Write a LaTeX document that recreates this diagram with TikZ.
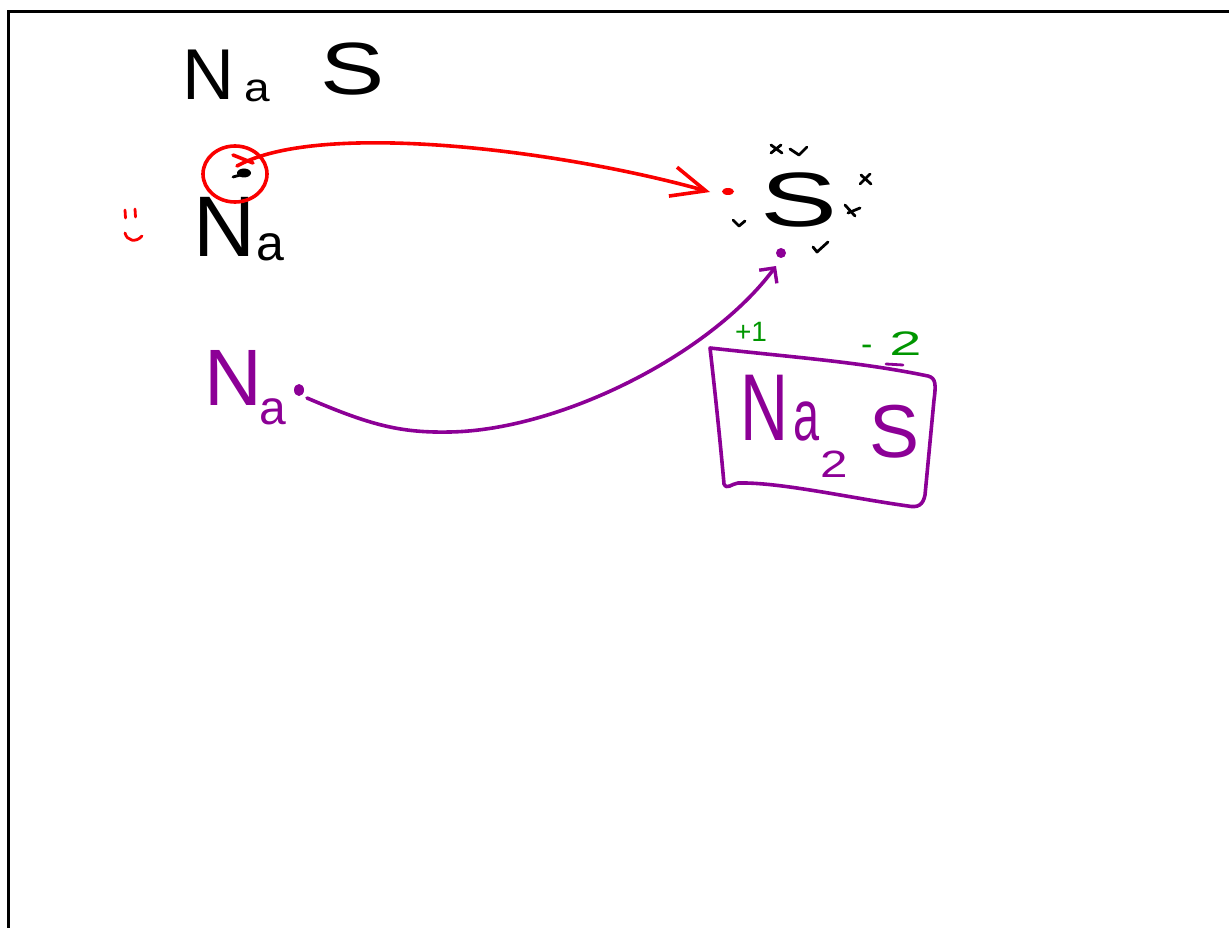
\documentclass[tikz,border=0pt]{standalone}
\usepackage{fontspec}
\setmainfont{Liberation Sans}
\usetikzlibrary{arrows.meta}
\definecolor{redink}{RGB}{250,0,0}
\definecolor{purpleink}{RGB}{140,0,150}
\definecolor{greenink}{RGB}{0,150,0}
\newcommand{\fsz}[1]{\fontsize{#1}{#1}\selectfont}
\begin{document}
\begin{tikzpicture}[x=1pt,y=-1pt,
  ink/.style={line width=3.6pt,line cap=round,line join=round},
  tick/.style={line width=2.8pt,line cap=round,line join=round},
  lbl/.style={inner sep=0pt,outer sep=0pt,anchor=base west}]
\useasboundingbox (0,0) rectangle (1229,928);
% frame
\draw[line width=3pt] (8,928) -- (8,11.5) -- (1229,11.5);

% top formula
\node[lbl] (na1) at (182,100) {\fsz{72}N\hspace{11pt}\raisebox{-2pt}{\scalebox{1.15}[1]{\fsz{40}a}}};
\node[inner sep=0pt,xscale=1.3] (s1) at (353,69) {\fsz{74}S};

% second Na with electron
\node[lbl] (na2) at (193.5,257) {\fsz{86}N\hspace{1pt}\raisebox{-3pt}{\fsz{50}a}};
\draw[redink,ink] (235,174) ellipse [x radius=32, y radius=28];
\fill (244,173) ellipse [x radius=7, y radius=4.5];
\draw[tick] (244,174) -- (233,177);
\coordinate (redStart) at (237,166);
\draw[redink,ink] (233,155) -- (253,163);

% smiley
\draw[redink,tick] (125,210) -- (125.5,218);
\draw[redink,tick] (135,209) -- (135.5,217);
\draw[redink,tick] (125,233) .. controls (127,241) and (136,243) .. (142,236);

% S with its electrons
\node[inner sep=0pt,xscale=1.5] (s2) at (799,200) {\fsz{77}S};
\draw[tick] (771,145) -- (782,153);
\draw[tick] (771,153) -- (781,145);
\draw[tick] (790,149) -- (799,155) -- (807,147);
\draw[tick] (861,175) -- (871,184);
\draw[tick] (860,184) -- (870,174);
\draw[tick] (845,205) -- (855,216);
\draw[tick] (848,213) -- (860,208);
\draw[tick] (733,220) -- (739,226) -- (745,221);
\draw[tick] (813,247) -- (817,252) -- (828,242);
\fill[redink] (728,191.5) ellipse [x radius=6, y radius=3.5];
\fill[purpleink] (781,253) circle [radius=5];
\coordinate (redEnd) at (710,192);
\coordinate (purpleEnd) at (776,266);

% red arrow
\draw[redink,ink,-{Straight Barb[length=34pt,width=30pt,line width=3.6pt]}]
  (redStart) .. controls (320,120) and (560,150) .. (redEnd);

% purple Na
\node[lbl,text=purpleink] (na3) at (204,405) {\fsz{80}N\hspace{-2pt}\raisebox{-19pt}{\fsz{48}a}};
\fill[purpleink] (299,390) ellipse [x radius=5, y radius=6];
\coordinate (purpleStart) at (307,398);
\draw[purpleink,ink,-{Straight Barb[length=11pt,width=22pt,line width=3.4pt]}]
  (purpleStart) .. controls (370,425) and (400,433) .. (450,432)
  .. controls (560,430) and (710,355) .. (purpleEnd);

% boxed Na2S
\draw[purpleink,ink] (710,348) .. controls (800,358) and (860,362) .. (928,376)
  .. controls (936,378) and (936,385) .. (934,400) -- (925,495)
  .. controls (923,505) and (918,508) .. (908,506)
  .. controls (850,498) and (780,482) .. (738,483)
  .. controls (731,484) and (727,490) .. (724,484)
  .. controls (721,450) and (716,400) .. (710,348) -- cycle;
\draw[purpleink,tick] (886,364) -- (903,365);
\node[lbl,text=purpleink] (na2s) at (740,440) {\scalebox{0.7}[1]{\fsz{95}N}\hspace{5pt}\scalebox{0.65}[1]{\fsz{72}a}\hspace{1pt}\raisebox{-37pt}{\scalebox{1.3}[1]{\fsz{38}2}}\hspace{22pt}\raisebox{-17pt}{\fsz{75}S}};

% oxidation numbers
\node[inner sep=0pt,text=greenink] (plus1) at (751,332) {\fsz{28}+1};
\node[lbl,text=greenink] (minus2) at (861,355) {\fsz{34}-\hspace{17pt}\scalebox{1.7}[1]{2}};
\end{tikzpicture}
\end{document}
